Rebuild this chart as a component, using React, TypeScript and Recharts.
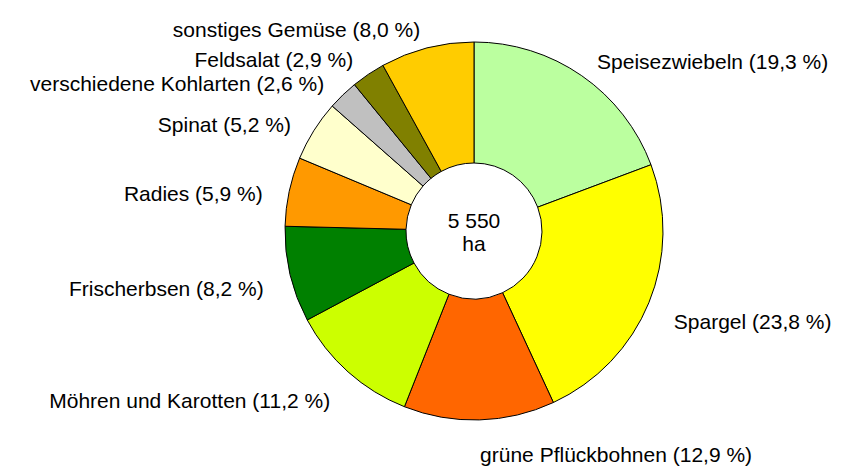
import { Cell, Label, Pie, PieChart } from "recharts";

const crops = [
  "Speisezwiebeln",
  "Spargel",
  "grüne Pflückbohnen",
  "Möhren und Karotten",
  "Frischerbsen",
  "Radies",
  "Spinat",
  "verschiedene Kohlarten",
  "Feldsalat",
  "sonstiges Gemüse",
];

const shares = [19.3, 23.8, 12.9, 11.2, 8.2, 5.9, 5.2, 2.6, 2.9, 8.0];

const sliceColors = [
  "#bbff9f",
  "#ffff00",
  "#ff6600",
  "#ccff00",
  "#008000",
  "#ff9900",
  "#ffffcc",
  "#c0c0c0",
  "#808000",
  "#ffcc00",
];

const totalArea = "5 550";
const areaUnit = "ha";

const FONT = '"Liberation Sans", Arial, sans-serif';
const RADIAN = Math.PI / 180;
const PIE_CX = 474;
const PIE_CY = 231;

const data = crops.map((name, i) => ({ name, value: shares[i] }));

function formatShare(v: number) {
  return v.toFixed(1).replace(".", ",");
}

function renderLabel(props: any) {
  const { cx, cy, midAngle, outerRadius, name, value } = props;
  const r = outerRadius + 27;
  const cos = Math.cos(-midAngle * RADIAN);
  const sin = Math.sin(-midAngle * RADIAN);
  const right = cos >= 0;
  const x = cx + r * cos;
  const y = cy + r * sin + 8;

  return (
    <text
      x={x}
      y={y}
      textAnchor={right ? "start" : "end"}
      dominantBaseline="central"
      fontFamily={FONT}
      fontSize={21}
      fill="#000"
    >
      {`${name} (${formatShare(value)} %)`}
    </text>
  );
}

function CenterText() {
  return (
    <text x={PIE_CX} y={PIE_CY} textAnchor="middle" fontFamily={FONT} fontSize={21} fill="#000">
      <tspan x={PIE_CX} dy={-3}>
        {totalArea}
      </tspan>
      <tspan x={PIE_CX} dy={23}>
        {areaUnit}
      </tspan>
    </text>
  );
}

export default function App() {
  return (
    <div style={{ position: "absolute", left: 0, top: 0, width: 846, height: 466, background: "#fff" }}>
      <PieChart width={846} height={466} margin={{ top: 0, right: 0, bottom: 0, left: 0 }}>
        <Pie
          data={data}
          dataKey="value"
          nameKey="name"
          cx={PIE_CX}
          cy={PIE_CY}
          outerRadius={189}
          innerRadius={68}
          startAngle={90}
          endAngle={-270}
          stroke="#000"
          strokeWidth={1}
          label={renderLabel}
          labelLine={false}
          isAnimationActive={false}
        >
          {data.map((entry, i) => (
            <Cell key={entry.name} fill={sliceColors[i]} />
          ))}
          <Label position="center" content={CenterText} />
        </Pie>
      </PieChart>
    </div>
  );
}
